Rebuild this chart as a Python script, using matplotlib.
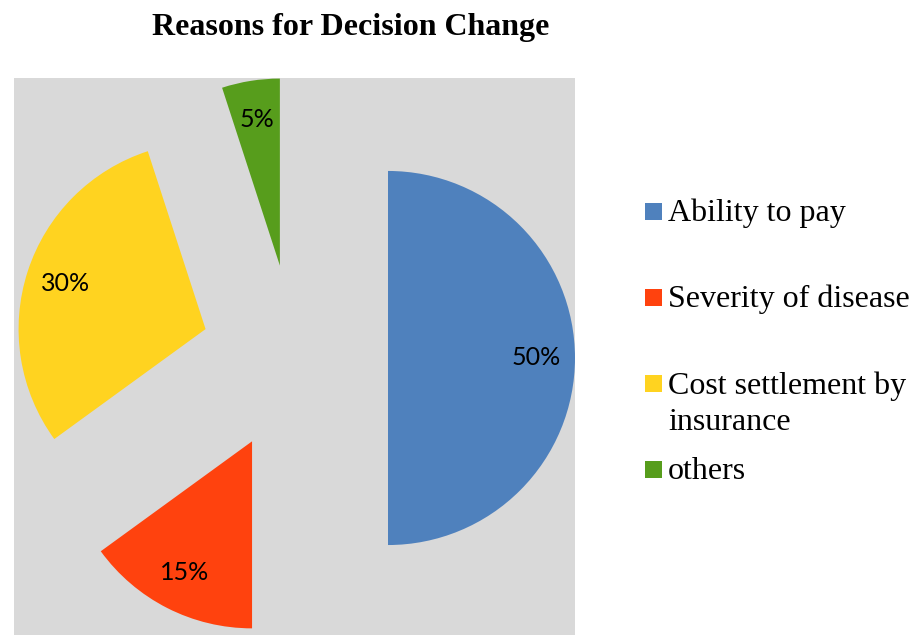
import matplotlib.pyplot as plt
from matplotlib.patches import Rectangle

# data
labels = ['Ability to pay', 'Severity of disease', 'Cost settlement by\ninsurance', 'others']
shares = [50, 15, 30, 5]
colors = ['#4F81BD', '#FF420E', '#FFD320', '#579D1C']
explode = [0.5, 0.5, 0.5, 0.5]

W, H = 919, 635
fig = plt.figure(figsize=(W / 100, H / 100), dpi=100)

# plot area (gray box)
ax = fig.add_axes([14 / W, 0, 561 / W, 557 / H])
wedges, texts, autotexts = ax.pie(
    shares, colors=colors, explode=explode, startangle=90, counterclock=False,
    autopct='%d%%', pctdistance=0.79, frame=True,
    textprops=dict(family=['Lato', 'DejaVu Sans'], fontsize=18, color='black'))
ax.set_aspect('auto')
ax.set_xlim(-1.500, 1.500)
ax.set_ylim(-1.481, 1.497)
ax.set_facecolor('#D9D9D9')
ax.set_xticks([])
ax.set_yticks([])
for s in ax.spines.values():
    s.set_visible(False)

fig.text(350.5 / W, 1 - 27 / H, 'Reasons for Decision Change', ha='center', va='center',
         family='Liberation Serif', fontweight='bold', fontsize=23)

# legend drawn by hand to follow the original spacing
line_h = 37
for i, (lab, c) in enumerate(zip(labels, colors)):
    yc = 211.5 + 86 * i
    fig.patches.append(Rectangle((645 / W, 1 - (yc + 8.5) / H), 17 / W, 17 / H,
                                 transform=fig.transFigure, facecolor=c, edgecolor='none'))
    n = lab.count('\n')
    fig.text(668 / W, 1 - (yc + 2 + n * line_h / 2) / H, lab, ha='left', va='center',
             family='Liberation Serif', fontsize=23, linespacing=1.33)

fig.savefig('out.png', dpi=100)
